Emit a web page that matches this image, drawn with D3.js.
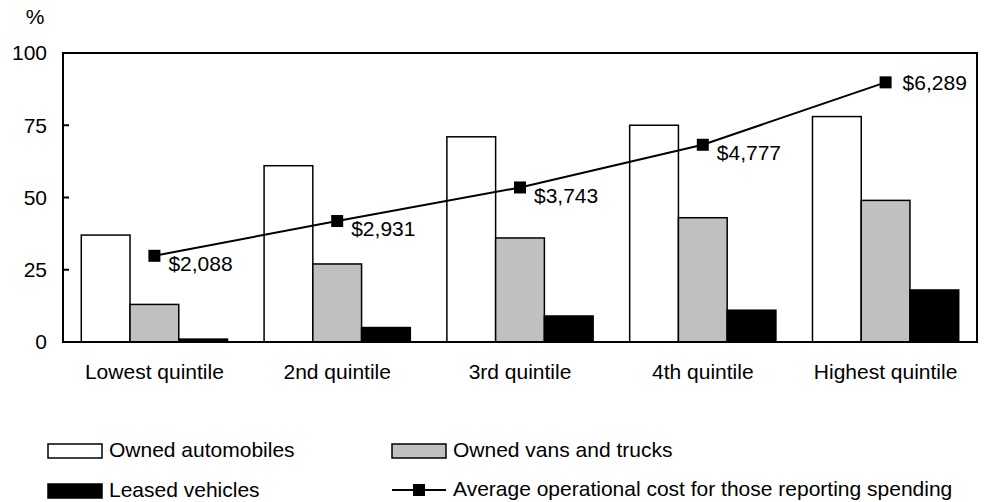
<!DOCTYPE html>
<html>
<head>
<meta charset="utf-8">
<script src="https://cdn.jsdelivr.net/npm/d3@7"></script>
<style>
  body { margin: 0; background: #fff; }
  text { font-family: 'Liberation Sans', Arial, sans-serif; font-size: 21px; fill: #000; }
</style>
</head>
<body>
<div id="chart"></div>
<script>
const categories = ['Lowest quintile', '2nd quintile', '3rd quintile', '4th quintile', 'Highest quintile'];
const seriesNames = ['Owned automobiles', 'Owned vans and trucks', 'Leased vehicles'];
const ownedAutos = [37, 61, 71, 75, 78];
const ownedVans = [13, 27, 36, 43, 49];
const leased = [1, 5, 9, 11, 18];
const avgCost = [2088, 2931, 3743, 4777, 6289];
const costLabels = ['$2,088', '$2,931', '$3,743', '$4,777', '$6,289'];
const yTicks = [0, 25, 50, 75, 100];
const lineName = 'Average operational cost for those reporting spending';

const fills = ['#ffffff', '#c0c0c0', '#000000'];

const margin = { top: 53, right: 10, bottom: 160, left: 63 };
const width = 987 - margin.left - margin.right;
const height = 502 - margin.top - margin.bottom;

const svg = d3
  .select('#chart')
  .append('svg')
  .attr('width', 987)
  .attr('height', 502);

const g = svg.append('g').attr('transform', `translate(${margin.left},${margin.top})`);

const x0 = d3.scaleBand().domain(categories).range([0, width]).paddingInner(0.2).paddingOuter(0.1);
const x1 = d3.scaleBand().domain(seriesNames).range([0, x0.bandwidth()]);
const y = d3.scaleLinear().domain([0, 100]).range([height, 0]);
// hidden secondary axis for the dollar line
const y2 = d3.scaleLinear().domain([0, 7000]).range([height, 0]);

const rows = categories.map((c, i) => ({
  cat: c,
  vals: [ownedAutos[i], ownedVans[i], leased[i]],
}));

// bars
const groups = g
  .selectAll('.grp')
  .data(rows)
  .enter()
  .append('g')
  .attr('transform', (d) => `translate(${x0(d.cat)},0)`);

groups
  .selectAll('rect')
  .data((d) => d.vals.map((v, j) => ({ v, s: seriesNames[j], j })))
  .enter()
  .append('rect')
  .attr('x', (d) => x1(d.s))
  .attr('y', (d) => y(d.v))
  .attr('width', x1.bandwidth())
  .attr('height', (d) => height - y(d.v))
  .style('fill', (d) => fills[d.j])
  .style('stroke', '#000')
  .style('stroke-width', 1.5);

// frame
g.append('rect')
  .attr('width', width)
  .attr('height', height)
  .style('fill', 'none')
  .style('stroke', '#000')
  .style('stroke-width', 2);

// y ticks (inward) and labels
g.selectAll('.tick')
  .data(yTicks)
  .enter()
  .append('line')
  .attr('x1', 0)
  .attr('x2', 6)
  .attr('y1', (d) => y(d))
  .attr('y2', (d) => y(d))
  .style('stroke', '#000')
  .style('stroke-width', 2);

g.selectAll('.ylab')
  .data(yTicks)
  .enter()
  .append('text')
  .attr('x', -16)
  .attr('y', (d) => y(d))
  .attr('dy', '0.35em')
  .attr('text-anchor', 'end')
  .text((d) => d);

svg.append('text').attr('x', 35).attr('y', 24).attr('text-anchor', 'middle').text('%');

// x labels
g.selectAll('.xlab')
  .data(categories)
  .enter()
  .append('text')
  .attr('x', (d) => x0(d) + x0.bandwidth() / 2)
  .attr('y', height + 37)
  .attr('text-anchor', 'middle')
  .text((d) => d);

// cost line
const pts = categories.map((c, i) => ({
  x: x0(c) + x0.bandwidth() / 2,
  y: y2(avgCost[i]),
  label: costLabels[i],
  last: i === categories.length - 1,
}));

g.append('path')
  .datum(pts)
  .attr('d', d3.line().x((d) => d.x).y((d) => d.y))
  .style('fill', 'none')
  .style('stroke', '#000')
  .style('stroke-width', 2);

g.selectAll('.mark')
  .data(pts)
  .enter()
  .append('rect')
  .attr('x', (d) => d.x - 6)
  .attr('y', (d) => d.y - 6)
  .attr('width', 12)
  .attr('height', 12)
  .style('fill', '#000');

g.selectAll('.clab')
  .data(pts)
  .enter()
  .append('text')
  .attr('x', (d) => d.x + (d.last ? 17 : 14))
  .attr('y', (d) => d.y + (d.last ? 0 : 8))
  .attr('dy', '0.35em')
  .text((d) => d.label);

// legend
const legend = svg.append('g');
const legendItems = [
  { name: seriesNames[0], x: 48, y: 451, type: 'bar', fill: fills[0] },
  { name: seriesNames[1], x: 392, y: 451, type: 'bar', fill: fills[1] },
  { name: seriesNames[2], x: 48, y: 491, type: 'bar', fill: fills[2] },
  { name: lineName, x: 392, y: 490, type: 'line' },
];

legendItems.forEach((d) => {
  if (d.type === 'bar') {
    legend
      .append('rect')
      .attr('x', d.x)
      .attr('y', d.y - 7)
      .attr('width', 54)
      .attr('height', 14)
      .style('fill', d.fill)
      .style('stroke', '#000')
      .style('stroke-width', 1.5);
  } else {
    legend
      .append('line')
      .attr('x1', d.x)
      .attr('x2', d.x + 54)
      .attr('y1', d.y)
      .attr('y2', d.y)
      .style('stroke', '#000')
      .style('stroke-width', 2);
    legend
      .append('rect')
      .attr('x', d.x + 21)
      .attr('y', d.y - 6)
      .attr('width', 12)
      .attr('height', 12)
      .style('fill', '#000');
  }
  legend
    .append('text')
    .attr('x', d.x + 61)
    .attr('y', d.y)
    .attr('dy', '0.3em')
    .text(d.name);
});
</script>
</body>
</html>
